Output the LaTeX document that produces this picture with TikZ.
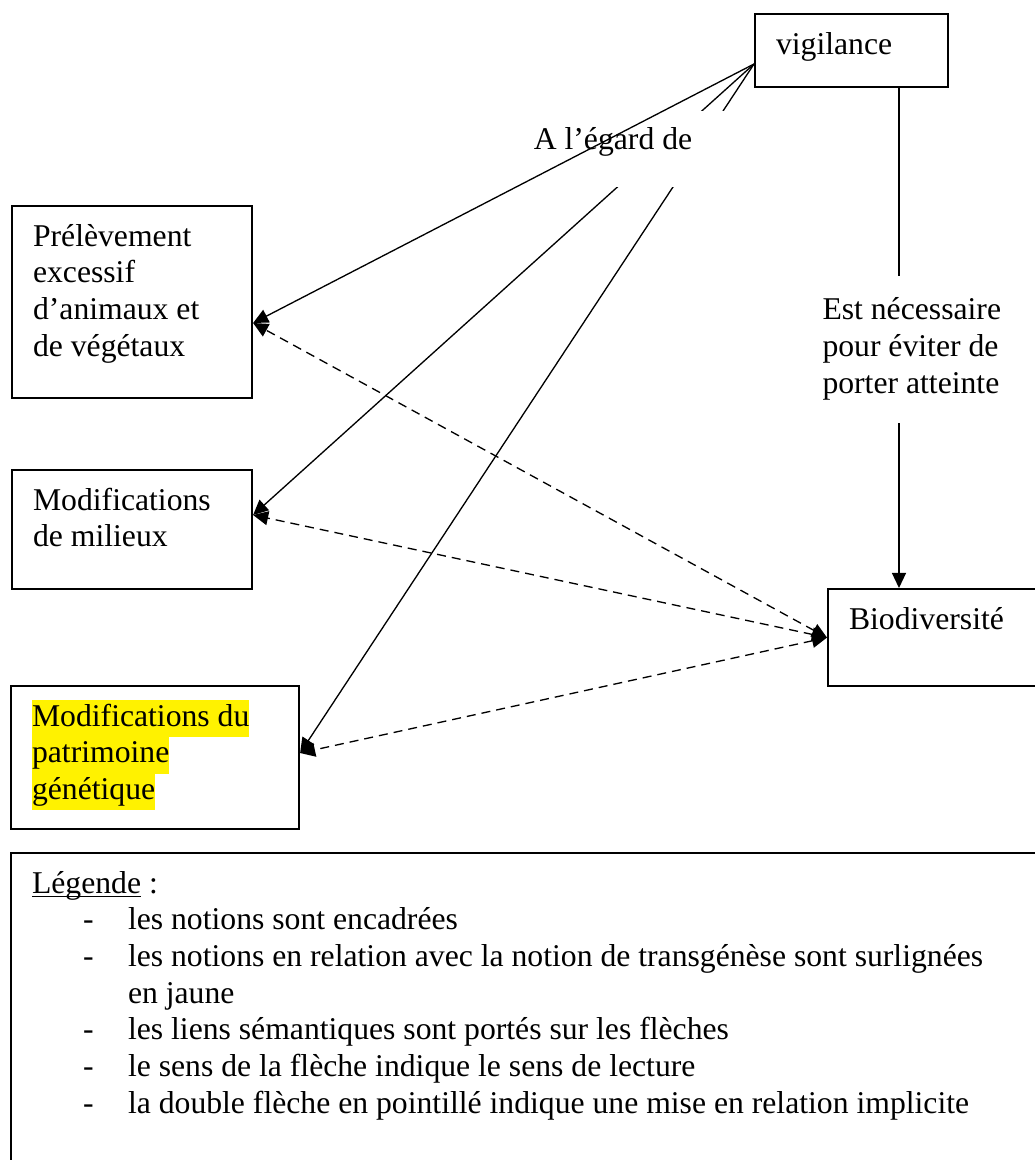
\documentclass[tikz,border=0pt]{standalone}
\usepackage{fontspec}
\setmainfont{Liberation Serif}
\usetikzlibrary{arrows.meta}
\newdimen\pxunit \pxunit=0.3788pt
\newcommand\surligne[1]{{\setlength{\fboxsep}{0pt}\colorbox{yellow}{\strut #1}}}
\newcommand\tiret{\hspace*{51\pxunit}\makebox[45\pxunit][l]{-}}
\tikzset{
  notion/.style={draw, line width=0.8pt, anchor=north west, align=left,
    inner xsep=21\pxunit, inner ysep=13\pxunit, text height=27\pxunit,
    execute at begin node={\spaceskip=0pt\xspaceskip=0pt\relax}},
  lien/.style={line width=0.5pt, -{Triangle[length=5.7pt,width=5.3pt]}},
  implicite/.style={line width=0.5pt, dash pattern=on 9\pxunit off 6\pxunit,
    {Triangle[length=5.7pt,width=5.3pt]}-{Triangle[length=5.7pt,width=5.3pt]}},
  etiquette/.style={fill=white, inner sep=0pt,
    execute at begin node={\spaceskip=0pt\xspaceskip=0pt\relax}}
}
\begin{document}
\begin{tikzpicture}[x=0.3788pt, y=-0.3788pt, font=\fontsize{12}{13.9}\selectfont]
    \useasboundingbox (0,0) rectangle (1035,1160);
    \clip (0,0) rectangle (1035,1160);
    %% notions
    \node[notion, text width=151\pxunit, text depth=20\pxunit] (vig) at (754,13) {vigilance};
    \node[notion, text width=198\pxunit, text depth=139\pxunit] (prel) at (11,205) {Prélèvement\\excessif\\d’animaux et\\de végétaux};
    \node[notion, text width=198\pxunit, text depth=66\pxunit] (mil) at (11,469) {Modifications\\de milieux};
    \node[notion, text width=246\pxunit, text depth=90\pxunit] (patr) at (10,685) {\surligne{Modifications du}\\\surligne{patrimoine}\\\surligne{génétique}};
    \node[notion, text width=250\pxunit, text depth=44\pxunit] (bio) at (827,588) {Biodiversité};
    %% liens
    \draw[lien] (vig.west |- 0,64) -- (mil.east |- 0,515);
    \draw[lien] (vig.west |- 0,64) -- (patr.east |- 0,753);
    \draw[lien] (vig.south -| 899,0) -- (bio.north -| 899,0);
    \draw[implicite] (bio.west) -- (prel.east |- 0,323);
    \draw[implicite] (bio.west) -- (mil.east |- 0,515);
    \draw[implicite] (bio.west) -- (patr.east |- 0,753);
    \node[etiquette, minimum width=227\pxunit, minimum height=76\pxunit, text height=5pt, text depth=5pt] (egard) at (613,149) {A l’égard de};
    \node[etiquette, text width=185\pxunit, align=left, minimum height=147\pxunit] (estnec) at (915,349) {Est nécessaire\\pour éviter de\\porter atteinte};
    \draw[lien] (vig.west |- 0,64) -- (prel.east |- 0,323);
    %% legende
    \node[notion, text width=1100\pxunit, text depth=280\pxunit] (leg) at (10,852) {\underline{\smash{Légende}} :\\
      \tiret les notions sont encadrées\\
      \tiret les notions en relation avec la notion de transgénèse sont surlignées\\
      \hspace*{96\pxunit}en jaune\\
      \tiret les liens sémantiques sont portés sur les flèches\\
      \tiret le sens de la flèche indique le sens de lecture\\
      \tiret la double flèche en pointillé indique une mise en relation implicite};
\end{tikzpicture}
\end{document}
